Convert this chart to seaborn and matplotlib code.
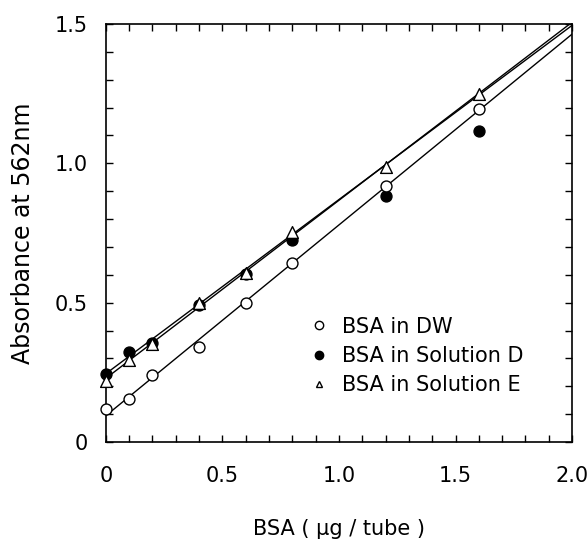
import numpy as np
import matplotlib
matplotlib.use("Agg")
import matplotlib.pyplot as plt
import seaborn as sns
from matplotlib.ticker import MultipleLocator, FixedFormatter, FixedLocator

# BSA amount (ug / tube)
bsa = [0, 0.1, 0.2, 0.4, 0.6, 0.8, 1.2, 1.6]

# absorbance at 562 nm
abs_dw = [0.118, 0.154, 0.240, 0.340, 0.500, 0.642, 0.920, 1.195]
abs_d = [0.244, 0.324, 0.356, 0.490, 0.603, 0.725, 0.884, 1.116]
abs_e = [0.220, 0.294, 0.350, 0.500, 0.605, 0.752, 0.988, 1.249]

# the Solution D line in the figure is not a fit of all D points,
# so its intercept / slope are read off the chart
d_line_x = [0, 2.0]
d_intercept = 0.245
d_slope = 0.625

labels = ["BSA in DW", "BSA in Solution D", "BSA in Solution E"]

sns.set_style("ticks", {"text.color": "black", "axes.labelcolor": "black",
                        "xtick.color": "black", "ytick.color": "black",
                        "axes.edgecolor": "black"})
plt.rcParams['font.family'] = ['DejaVu Sans']

fig = plt.figure(figsize=(5.88, 5.44), dpi=100)
ax = fig.add_axes([0.180, 0.1875, 0.793, 0.7685])
ax.set_xlim(0, 2.0)
ax.set_ylim(0, 1.5)

sc = dict(edgecolors="black", linewidths=1.0, zorder=3, clip_on=False, alpha=1)
ln = dict(color="black", lw=1.0, zorder=2)

# D points first so the open triangles sit on top of them
sns.regplot(x=bsa, y=abs_d, ax=ax, fit_reg=False, marker="o",
            scatter_kws=dict(s=62, facecolors="black", **sc))
sns.lineplot(x=d_line_x, y=[d_intercept + d_slope * v for v in d_line_x],
             ax=ax, **ln)
sns.regplot(x=bsa, y=abs_dw, ax=ax, ci=None, truncate=False, marker="o",
            scatter_kws=dict(s=62, facecolors="white", **sc), line_kws=ln)
sns.regplot(x=bsa, y=abs_e, ax=ax, ci=None, truncate=False, marker="^",
            scatter_kws=dict(s=72, facecolors="white", **sc), line_kws=ln)

# legend with small markers, no frame
handles = [
    plt.Line2D([], [], ls="none", marker="o", mfc="white", mec="black", ms=6, mew=1),
    plt.Line2D([], [], ls="none", marker="o", mfc="black", mec="black", ms=6, mew=1),
    plt.Line2D([], [], ls="none", marker="^", mfc="white", mec="black", ms=5, mew=1),
]
ax.legend(handles, labels, loc="upper left", bbox_to_anchor=(0.395, 0.345),
          frameon=False, fontsize=15, handletextpad=0.6, handlelength=1.0,
          labelspacing=0.45, labelcolor="black")

ax.set_xlim(0, 2.0)
ax.set_ylim(0, 1.5)
ax.xaxis.set_major_locator(FixedLocator([0, 0.5, 1.0, 1.5, 2.0]))
ax.xaxis.set_major_formatter(FixedFormatter(["0", "0.5", "1.0", "1.5", "2.0"]))
ax.yaxis.set_major_locator(FixedLocator([0, 0.5, 1.0, 1.5]))
ax.yaxis.set_major_formatter(FixedFormatter(["0", "0.5", "1.0", "1.5"]))
ax.xaxis.set_minor_locator(MultipleLocator(0.1))
ax.yaxis.set_minor_locator(MultipleLocator(0.1))
ax.tick_params(which="both", direction="in", top=True, right=True, width=1.0,
               length=5, colors="black")
ax.tick_params(axis="x", which="major", labelsize=15, pad=17)
ax.tick_params(axis="y", which="major", labelsize=15, pad=13)
for sp in ax.spines.values():
    sp.set_linewidth(1.2)
    sp.set_color("black")

ax.set_xlabel("BSA ( \u03bcg / tube )", fontsize=15, labelpad=24, color="black")
ax.set_ylabel("Absorbance at 562nm", fontsize=17, labelpad=14, color="black")

fig.savefig("out.png", dpi=100)
